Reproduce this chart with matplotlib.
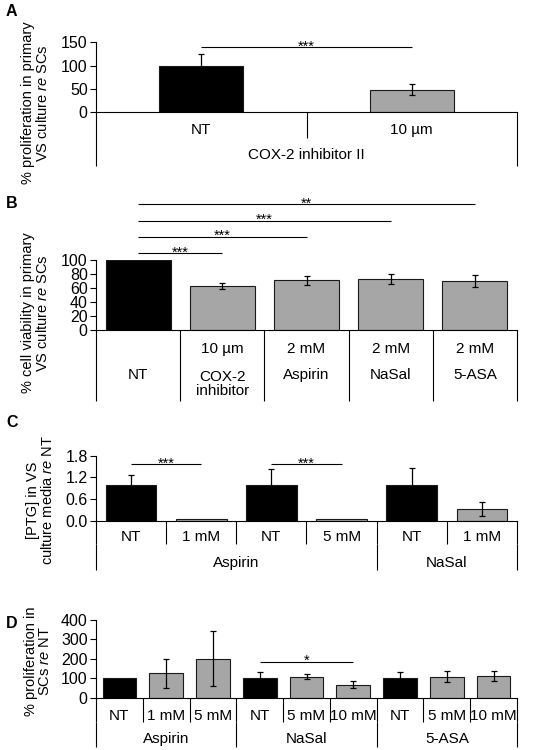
import matplotlib
matplotlib.use("Agg")
import matplotlib.pyplot as plt
from matplotlib import transforms

plt.rcParams['font.family'] = ['Liberation Sans', 'DejaVu Sans']
plt.rcParams['mathtext.fontset'] = 'custom'
plt.rcParams['mathtext.it'] = 'Liberation Sans:italic'
plt.rcParams['mathtext.rm'] = 'Liberation Sans'

# ---------------- data ----------------
A_labels = ['NT', '10 µm']
A_group = 'COX-2 inhibitor II'
A_values = [100, 48]
A_err = [25, 12]
A_ticks = [0, 50, 100, 150]
A_sig = [(0, 1, '***', 140)]

B_dose = ['', '10 µm', '2 mM', '2 mM', '2 mM']
B_drug = ['NT', 'COX-2\ninhibitor', 'Aspirin', 'NaSal', '5-ASA']
B_values = [100, 63, 71, 73, 70]
B_err = [0, 5, 7, 7, 9]
B_ticks = [0, 20, 40, 60, 80, 100]
B_sig = [(0, 1, '***', 110.7), (0, 2, '***', 134), (0, 3, '***', 157), (0, 4, '**', 181)]

C_labels = ['NT', '1 mM', 'NT', '5 mM', 'NT', '1 mM']
C_groups = ['Aspirin', 'NaSal']
C_group_sizes = [4, 2]
C_values = [1.0, 0.04, 1.0, 0.04, 1.0, 0.33]
C_err = [0.27, 0, 0.44, 0, 0.45, 0.2]
C_ticks = [0.0, 0.6, 1.2, 1.8]
C_ticklabels = ['0.0', '0.6', '1.2', '1.8']
C_sig = [(0, 1, '***', 1.56), (2, 3, '***', 1.56)]

D_labels = ['NT', '1 mM', '5 mM', 'NT', '5 mM', '10 mM', 'NT', '5 mM', '10 mM']
D_groups = ['Aspirin', 'NaSal', '5-ASA']
D_group_sizes = [3, 3, 3]
D_values = [100, 125, 200, 100, 107, 67, 100, 108, 111]
D_err = [0, 73, 142, 30, 13, 19, 30, 28, 27]
D_ticks = [0, 100, 200, 300, 400]
D_sig = [(3, 5, '*', 185.6)]

W, H = 535, 750
BLACK = '#000000'
GRAY = '#a6a6a6'
TICK = 11.5
CAT = 11
YL = 10.5

fig = plt.figure(figsize=(W / 100, H / 100), dpi=100)


def make_axes(left, right, top, bottom):
    ax = fig.add_axes([left / W, 1 - bottom / H, (right - left) / W, (bottom - top) / H])
    ax._px = (top, bottom)
    return ax


def ay(ax, py):
    top, bottom = ax._px
    return (bottom - py) / (bottom - top)


def draw_bars(ax, values, errs, width, ncat, ymax, ticks, ticklabels=None, tsize=TICK):
    xs = list(range(ncat))
    colors = [BLACK if is_nt else GRAY for is_nt in ax._nt]
    ax.bar(xs, values, width=width, color=colors, edgecolor='#1a1a1a', linewidth=0.8, zorder=2)
    ex = [x for x, e in zip(xs, errs) if e > 0]
    ev = [v for v, e in zip(values, errs) if e > 0]
    ee = [e for e in errs if e > 0]
    ax.errorbar(ex, ev, yerr=ee, fmt='none', ecolor='black', elinewidth=0.9,
                capsize=2.5, capthick=0.9, zorder=3)
    ax.set_xlim(-0.5, ncat - 0.5)
    ax.set_ylim(0, ymax)
    ax.set_yticks(ticks)
    if ticklabels is not None:
        ax.set_yticklabels(ticklabels)
    ax.tick_params(axis='y', direction='out', length=4, width=0.8, labelsize=tsize, pad=2)
    ax.tick_params(axis='x', length=0, labelbottom=False)
    for s in ['top', 'right']:
        ax.spines[s].set_visible(False)
    ax.spines['left'].set_linewidth(0.8)
    ax.spines['bottom'].set_linewidth(0.8)
    ax.patch.set_alpha(0)


def vline(ax, x, py0, py1):
    tr = transforms.blended_transform_factory(ax.transData, ax.transAxes)
    ax.plot([x, x], [ay(ax, py0), ay(ax, py1)], color='black', lw=0.8,
            transform=tr, clip_on=False, solid_capstyle='butt')


def ctext(ax, x, py, s, size=CAT):
    tr = transforms.blended_transform_factory(ax.transData, ax.transAxes)
    ax.text(x, ay(ax, py), s, transform=tr, ha='center', va='center', fontsize=size,
            clip_on=False, linespacing=1.0)


def sig(ax, items):
    for x0, x1, s, y in items:
        ax.plot([x0, x1], [y, y], color='black', lw=0.8, clip_on=False, solid_capstyle='butt')
        off = transforms.offset_copy(ax.transData, fig=fig, x=0, y=-3.5, units='dots')
        ax.text((x0 + x1) / 2, y, s, transform=off, ha='center', va='baseline',
                fontsize=10.5, clip_on=False)


def ylabel(px, py, s, size=YL):
    fig.text(px / W, 1 - py / H, s, rotation=90, ha='center', va='center',
             fontsize=size, multialignment='center', linespacing=1.0)


def letter(px, py, s):
    fig.text(px / W, 1 - py / H, s, ha='left', va='center', fontsize=11.5, fontweight='bold')


# ---------------- Panel A ----------------
axA = make_axes(96, 517, 42.3, 112)
axA._nt = [l == 'NT' for l in A_labels]
draw_bars(axA, A_values, A_err, 0.4, len(A_labels), 150, A_ticks)
sig(axA, A_sig)
for x in [-0.5, 1.5]:
    vline(axA, x, 112, 166)
vline(axA, 0.5, 112, 138)
for i, l in enumerate(A_labels):
    ctext(axA, i, 130, l)
ctext(axA, 0.5, 155, A_group)
ylabel(36, 103, '% proliferation in primary\nVS culture $\\it{re}$ SCs')
letter(6, 12, 'A')

# ---------------- Panel B ----------------
axB = make_axes(96, 517, 260.3, 329.7)
axB._nt = [d == 'NT' for d in B_drug]
draw_bars(axB, B_values, B_err, 0.77, len(B_drug), 100, B_ticks)
sig(axB, B_sig)
for k in range(len(B_drug) + 1):
    vline(axB, k - 0.5, 329.7, 401)
for i, (d, g) in enumerate(zip(B_dose, B_drug)):
    if d:
        ctext(axB, i, 349, d)
        if '\n' in g:
            ctext(axB, i, 384, g)
        else:
            ctext(axB, i, 375, g)
    else:
        ctext(axB, i, 375, g)
ylabel(36, 313, '% cell viability in primary\nVS culture $\\it{re}$ SCs')
letter(6, 203, 'B')

# ---------------- Panel C ----------------
axC = make_axes(96, 517, 455.7, 520.7)
axC._nt = [l == 'NT' for l in C_labels]
draw_bars(axC, C_values, C_err, 0.72, len(C_labels), 1.8, C_ticks, C_ticklabels)
sig(axC, C_sig)
for k in range(len(C_labels) + 1):
    vline(axC, k - 0.5, 520.7, 544)
b = -0.5
vline(axC, b, 544, 570)
for gname, gs in zip(C_groups, C_group_sizes):
    ctext(axC, b + gs / 2, 562.7, gname)
    b += gs
    vline(axC, b, 544, 570)
for i, l in enumerate(C_labels):
    ctext(axC, i, 536.7, l)
ylabel(41, 500, '[PTG] in VS\nculture media $\\it{re}$ NT')
letter(6, 423, 'C')

# ---------------- Panel D ----------------
axD = make_axes(96, 517, 620, 697.7)
axD._nt = [l == 'NT' for l in D_labels]
draw_bars(axD, D_values, D_err, 0.72, len(D_labels), 400, D_ticks)
sig(axD, D_sig)
for k in range(len(D_labels) + 1):
    vline(axD, k - 0.5, 697.7, 721.7)
b = -0.5
vline(axD, b, 721.7, 746.7)
for gname, gs in zip(D_groups, D_group_sizes):
    ctext(axD, b + gs / 2, 739.3, gname)
    b += gs
    vline(axD, b, 721.7, 746.7)
for i, l in enumerate(D_labels):
    ctext(axD, i, 715.7, l)
ylabel(38, 661, '% proliferation in\nSCs $\\it{re}$ NT')
letter(6, 623, 'D')

fig.savefig('out.png', dpi=100)
